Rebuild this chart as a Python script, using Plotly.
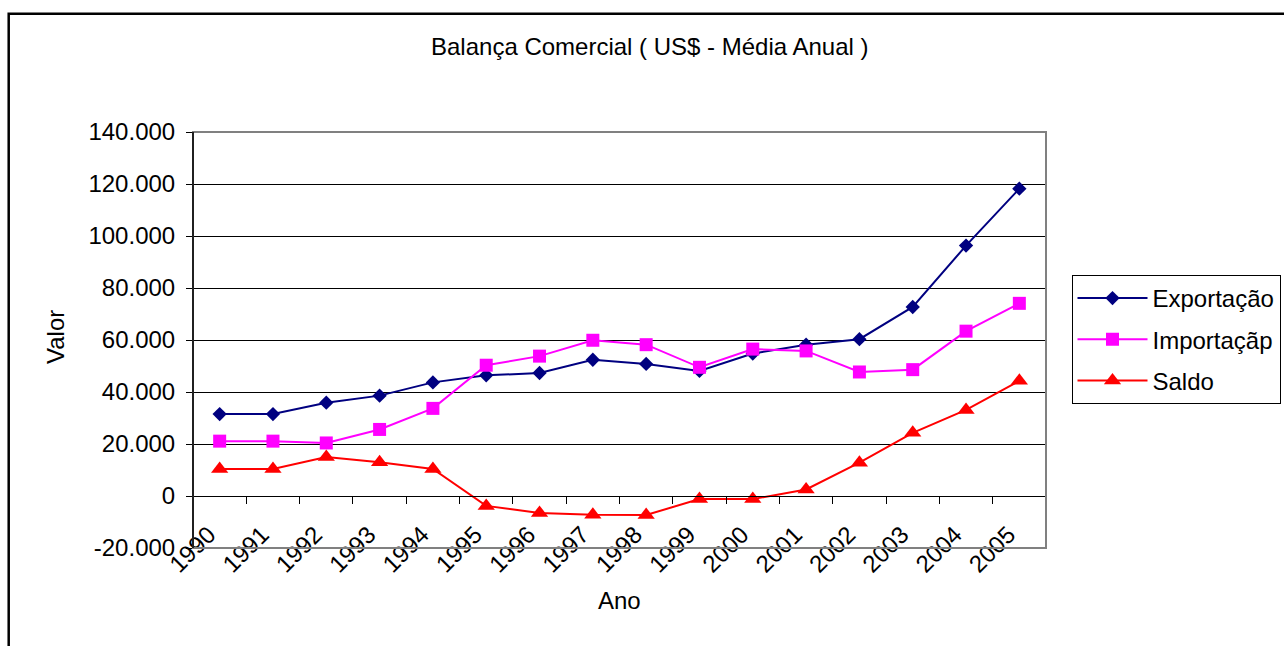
import plotly.graph_objects as go

# ---------------- data ----------------
anos = ["1990", "1991", "1992", "1993", "1994", "1995", "1996", "1997",
        "1998", "1999", "2000", "2001", "2002", "2003", "2004", "2005"]
exportacao = [31500, 31500, 35900, 38600, 43700, 46400, 47300, 52400,
              50800, 48100, 54800, 58200, 60300, 72700, 96300, 118200]
importacao = [21100, 21100, 20400, 25600, 33700, 50300, 53800, 59900,
              58200, 49500, 56500, 55800, 47700, 48600, 63400, 74100]
saldo = [10400, 10400, 15000, 13000, 10400, -3800, -6500, -7200,
         -7300, -1200, -1200, 2500, 12800, 24300, 33100, 44300]
ytick_vals = [-20000, 0, 20000, 40000, 60000, 80000, 100000, 120000, 140000]
ytick_text = ["-20.000", "0", "20.000", "40.000", "60.000", "80.000",
              "100.000", "120.000", "140.000"]
titulo = "Balança Comercial ( US$ - Média Anual )"

FONT = "Liberation Sans, Arial, sans-serif"
FS = 24

W, H = 1284, 646
ML, MR, MT, MB = 193, 238, 132, 98
PW, PH = W - ML - MR, H - MT - MB

def px_x(p):
    return (p - ML) / PW

def px_y(p):
    return 1 - (p - MT) / PH

fig = go.Figure()
fig.add_trace(go.Scatter(
    x=anos, y=exportacao, name="Exportação", mode="lines+markers",
    line=dict(color="#000080", width=2),
    marker=dict(symbol="diamond", size=11, color="#000080"),
    legendgroup="a"))
fig.add_trace(go.Scatter(
    x=anos, y=importacao, name="Importaçãp", mode="lines+markers",
    line=dict(color="#FF00FF", width=2),
    marker=dict(symbol="square", size=13, color="#FF00FF"),
    legendgroup="b"))
fig.add_trace(go.Scatter(
    x=anos, y=saldo, name="Saldo", mode="lines+markers",
    line=dict(color="#FF0000", width=2),
    marker=dict(symbol="triangle-up", size=15, color="#FF0000"),
    legendgroup="c"))

ymin, ymax = ytick_vals[0], ytick_vals[-1]
zero_pos = (0 - ymin) / (ymax - ymin)

fig.update_layout(
    width=W, height=H,
    margin=dict(l=ML, r=MR, t=MT, b=MB, autoexpand=False),
    paper_bgcolor="white", plot_bgcolor="white",
    font=dict(family=FONT, size=FS, color="black"),
    xaxis=dict(type="category", categoryorder="array", categoryarray=anos,
               range=[-0.5, len(anos) - 0.5], anchor="free", position=zero_pos,
               tickson="boundaries", ticks="outside", ticklen=7, tickcolor="black",
               showline=True, linecolor="black", linewidth=1, showgrid=False,
               zeroline=False, tickangle=-45, ticklabelstandoff=14,
               ticklabelshift=-11,
               tickfont=dict(family=FONT, size=FS, color="black")),
    yaxis=dict(range=[ymin, ymax], tickmode="array", tickvals=ytick_vals,
               ticktext=ytick_text, ticks="outside", ticklen=7, tickcolor="black",
               showline=False, showgrid=True, gridcolor="black", gridwidth=1,
               zeroline=False, anchor="free", position=0,
               ticklabelstandoff=6,
               tickfont=dict(family=FONT, size=FS, color="black")),
    showlegend=True,
    legend=dict(x=px_x(1071.5), y=px_y(275), xanchor="left", yanchor="top",
                bordercolor="black", borderwidth=1, bgcolor="white",
                font=dict(family=FONT, size=FS, color="black"),
                tracegroupgap=7, itemwidth=70),
    shapes=[
        # plot frame
        dict(type="rect", xref="paper", yref="paper", x0=0, x1=1, y0=0, y1=1,
             line=dict(color="#808080", width=2), layer="above"),
        dict(type="line", xref="paper", yref="paper", x0=0, x1=0, y0=0, y1=1,
             line=dict(color="black", width=1.5), layer="above"),
        # outer chart border
        dict(type="rect", xref="paper", yref="paper",
             x0=px_x(8.7), x1=px_x(1300), y0=px_y(660), y1=px_y(13.7),
             line=dict(color="black", width=2.5), layer="above"),
    ],
    annotations=[
        dict(text=titulo, xref="paper", yref="paper", x=px_x(650), y=px_y(47),
             xanchor="center", yanchor="middle", showarrow=False,
             font=dict(family=FONT, size=FS, color="black")),
        dict(text="Valor", xref="paper", yref="paper", x=px_x(55), y=px_y(337),
             xanchor="center", yanchor="middle", showarrow=False, textangle=-90,
             font=dict(family=FONT, size=FS, color="black")),
        dict(text="Ano", xref="paper", yref="paper", x=px_x(619), y=px_y(600),
             xanchor="center", yanchor="middle", showarrow=False,
             font=dict(family=FONT, size=FS, color="black")),
    ],
)

fig.write_html("out.html")
